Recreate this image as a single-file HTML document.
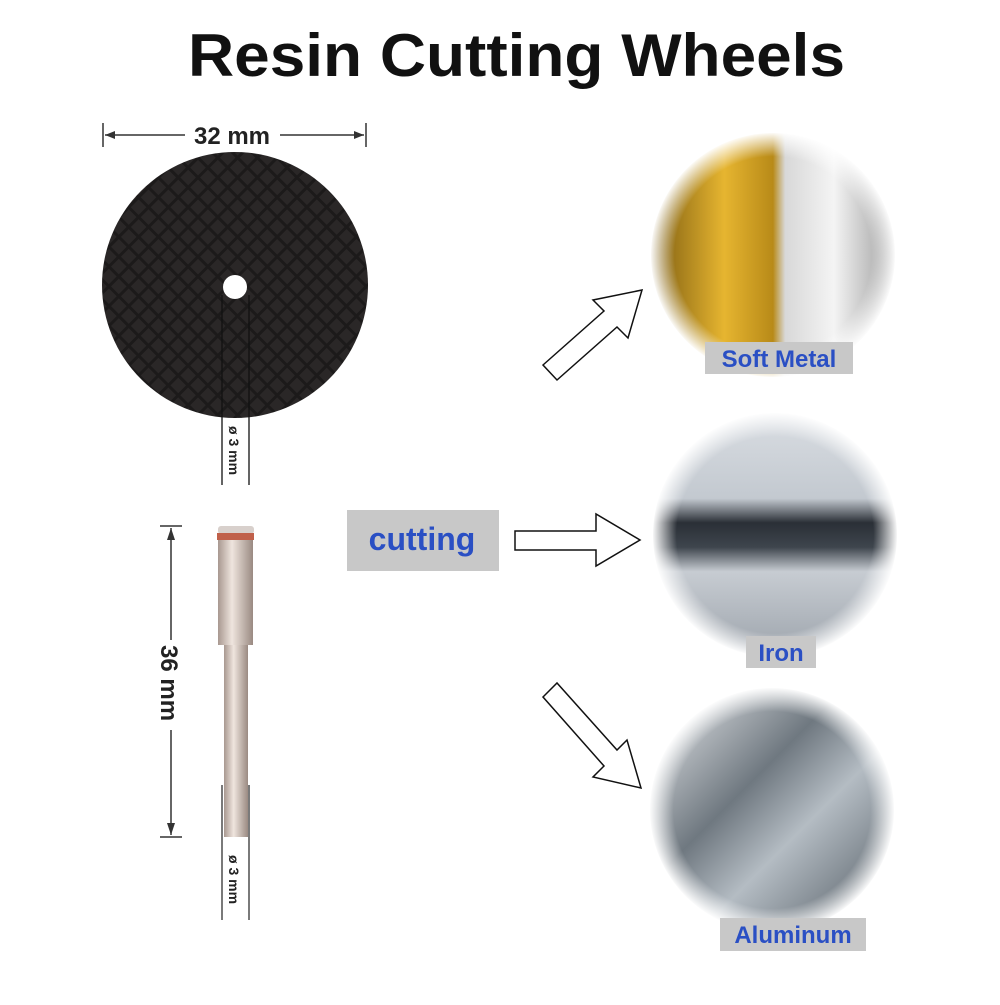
<!DOCTYPE html>
<html><head><meta charset="utf-8"><style>
body{margin:0;background:#fff;width:1000px;height:1000px;overflow:hidden;font-family:"Liberation Sans",sans-serif}
</style></head><body>
<svg width="1000" height="1000" viewBox="0 0 1000 1000" xmlns="http://www.w3.org/2000/svg">
<defs>
<pattern id="grid" width="14" height="14" patternUnits="userSpaceOnUse" patternTransform="rotate(45)">
<rect width="14" height="14" fill="#1c1a1a"/><rect x="1" y="1" width="11" height="11" fill="#2a2727"/>
</pattern>
<radialGradient id="fade" cx="50%" cy="50%" r="50%"><stop offset="80%" stop-color="#fff" stop-opacity="0"/><stop offset="100%" stop-color="#fff" stop-opacity="1"/></radialGradient>
<linearGradient id="gold" x1="0" x2="1"><stop offset="0" stop-color="#7a5a10"/><stop offset="0.3" stop-color="#e6b530"/><stop offset="0.5" stop-color="#b88a18"/><stop offset="0.55" stop-color="#d8d8d8"/><stop offset="0.75" stop-color="#f4f4f4"/><stop offset="1" stop-color="#9a9a9a"/></linearGradient>
<linearGradient id="iron" x1="0" y1="0" x2="0" y2="1"><stop offset="0" stop-color="#d9dde2"/><stop offset="0.35" stop-color="#c3c9d0"/><stop offset="0.45" stop-color="#2a2f36"/><stop offset="0.55" stop-color="#3e454d"/><stop offset="0.65" stop-color="#c7ccd2"/><stop offset="1" stop-color="#9ca3ab"/></linearGradient>
<linearGradient id="alu" x1="0" y1="0" x2="1" y2="1"><stop offset="0" stop-color="#f0f2f4"/><stop offset="0.4" stop-color="#6f7880"/><stop offset="0.6" stop-color="#b4bcc3"/><stop offset="1" stop-color="#4a535b"/></linearGradient>
<linearGradient id="shank" x1="0" x2="1"><stop offset="0" stop-color="#a89890"/><stop offset="0.4" stop-color="#efe5de"/><stop offset="1" stop-color="#9a8a82"/></linearGradient>
</defs>
<text x="188" y="76" font-size="60" font-weight="bold" fill="#111" textLength="657" lengthAdjust="spacingAndGlyphs">Resin Cutting Wheels</text>
<!-- 32mm dimension -->
<line x1="103" y1="123" x2="103" y2="147" stroke="#333" stroke-width="1.5"/>
<line x1="366" y1="123" x2="366" y2="147" stroke="#333" stroke-width="1.5"/>
<line x1="105" y1="135" x2="185" y2="135" stroke="#333" stroke-width="1.5"/>
<line x1="280" y1="135" x2="364" y2="135" stroke="#333" stroke-width="1.5"/>
<polygon points="105,135 115,131 115,139" fill="#333"/><polygon points="364,135 354,131 354,139" fill="#333"/>
<text x="232" y="144" text-anchor="middle" font-size="24" font-weight="bold" fill="#222">32 mm</text>
<!-- disc -->
<circle cx="235" cy="285" r="133" fill="url(#grid)"/>
<circle cx="235" cy="287" r="12" fill="#fff"/>
<line x1="222" y1="295" x2="222" y2="485" stroke="#111" stroke-width="1.3"/>
<line x1="249" y1="295" x2="249" y2="485" stroke="#111" stroke-width="1.3"/>
<text transform="translate(229,426) rotate(90)" font-size="14" font-weight="bold" fill="#222">ø 3 mm</text>
<!-- pin -->
<line x1="160" y1="526" x2="182" y2="526" stroke="#333" stroke-width="1.5"/>
<line x1="160" y1="837" x2="182" y2="837" stroke="#333" stroke-width="1.5"/>
<line x1="171" y1="528" x2="171" y2="640" stroke="#333" stroke-width="1.5"/>
<line x1="171" y1="730" x2="171" y2="835" stroke="#333" stroke-width="1.5"/>
<polygon points="171,528 167,540 175,540" fill="#333"/><polygon points="171,835 167,823 175,823" fill="#333"/>
<text transform="translate(161,645) rotate(90)" font-size="24" font-weight="bold" fill="#222">36 mm</text>
<rect x="218" y="526" width="36" height="8" rx="3" fill="#d8d0cc"/>
<rect x="217" y="533" width="37" height="7" fill="#c0604a"/>
<rect x="218" y="540" width="35" height="105" fill="url(#shank)"/>
<rect x="224" y="645" width="24" height="192" fill="url(#shank)"/>
<line x1="222" y1="785" x2="222" y2="920" stroke="#222" stroke-width="1.2"/>
<line x1="249" y1="785" x2="249" y2="920" stroke="#222" stroke-width="1.2"/>
<text transform="translate(229,855) rotate(90)" font-size="14" font-weight="bold" fill="#222">ø 3 mm</text>
<!-- cutting -->
<rect x="347" y="510" width="152" height="61" fill="#c8c8c8"/>
<text x="422" y="550" text-anchor="middle" font-size="32" font-weight="bold" fill="#2a4fc4">cutting</text>
<!-- arrows -->
<polygon points="515,531 596,531 596,514 640,540 596,566 596,550 515,550" fill="#fff" stroke="#111" stroke-width="1.5"/>
<polygon points="543,365 604,311 593,300 642,290 628,338 617,327 557,380" fill="#fff" stroke="#111" stroke-width="1.5"/>
<polygon points="543,697 557,683 617,750 627,740 641,788 593,777 604,766" fill="#fff" stroke="#111" stroke-width="1.5"/>
<!-- images -->
<circle cx="773" cy="255" r="122" fill="url(#gold)"/>
<circle cx="773" cy="255" r="123" fill="url(#fade)"/>
<circle cx="775" cy="535" r="122" fill="url(#iron)"/>
<circle cx="775" cy="535" r="123" fill="url(#fade)"/>
<circle cx="772" cy="810" r="122" fill="url(#alu)"/>
<circle cx="772" cy="810" r="123" fill="url(#fade)"/>
<!-- labels -->
<rect x="705" y="342" width="148" height="32" fill="#c8c8c8"/>
<text x="779" y="367" text-anchor="middle" font-size="24" font-weight="bold" fill="#2a4fc4">Soft Metal</text>
<rect x="746" y="636" width="70" height="32" fill="#c8c8c8"/>
<text x="781" y="661" text-anchor="middle" font-size="24" font-weight="bold" fill="#2a4fc4">Iron</text>
<rect x="720" y="918" width="146" height="33" fill="#c8c8c8"/>
<text x="793" y="943" text-anchor="middle" font-size="24" font-weight="bold" fill="#2a4fc4">Aluminum</text>
</svg>
</body></html>
